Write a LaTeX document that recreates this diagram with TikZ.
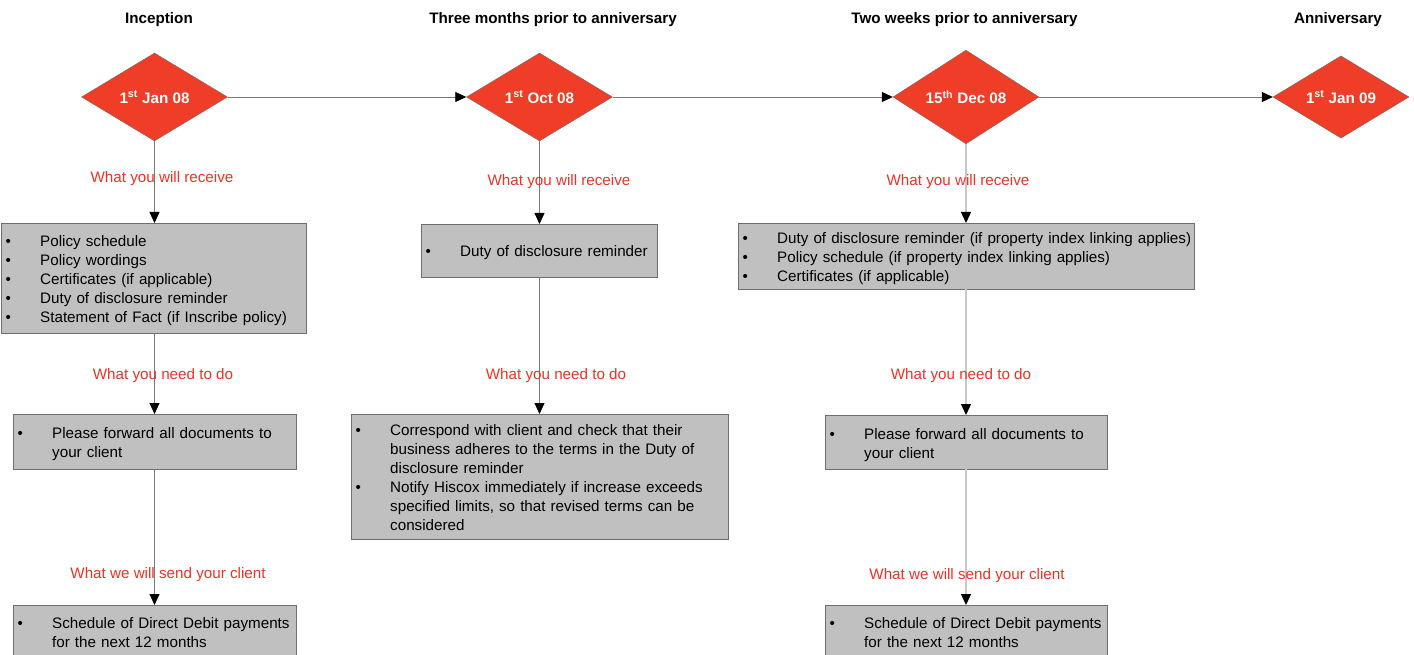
\documentclass[tikz,border=0pt]{standalone}
\usepackage{fontspec}
\setmainfont{Liberation Sans}
\usetikzlibrary{shapes.geometric,arrows.meta}
\definecolor{datered}{RGB}{239,61,39}
\definecolor{labelred}{RGB}{238,50,35}
\definecolor{boxgray}{RGB}{192,192,192}
\definecolor{boxedge}{RGB}{110,110,110}
\definecolor{linkgray}{RGB}{120,120,120}
\definecolor{lightlink}{RGB}{200,200,200}
\newcommand{\bl}{\textbullet &}
\newcommand{\topgap}{\rule{0pt}{18.3pt}}
\tikzset{
  every node/.style={font=\fontsize{15.2}{19}\selectfont},
  datebox/.style={diamond, draw=boxedge, fill=datered, text=white, inner sep=0pt,
    minimum width=146pt, minimum height=88pt, font=\fontsize{15.2}{19}\selectfont\bfseries},
  stage/.style={font=\fontsize{15.2}{19}\selectfont\bfseries},
  listbox/.style={draw=boxedge, fill=boxgray, anchor=north west, inner xsep=4.3pt,
    inner ysep=0pt, align=left},
  lbl/.style={text=labelred},
  link/.style={draw=linkgray, line width=0.8pt, -{Triangle[width=10pt,length=11pt,black]}},
  lightlink/.style={link, draw=lightlink, line width=1.4pt}
}
\begin{document}
\begin{tikzpicture}[x=1pt,y=-1pt]
			%%%%% FRAME %%%%%
			\useasboundingbox (0,0) rectangle (1414,655);
			\clip (0,0) rectangle (1414,655);
			
			%%%%% HEADINGS %%%%%
			\node[stage] (h1) at (159,20) {Inception};
			\node[stage] (h2) at (553,20) {Three months prior to anniversary};
			\node[stage] (h3) at (964.5,20) {Two weeks prior to anniversary};
			\node[stage] (h4) at (1338,20) {Anniversary};
			
			%%%%% DATES %%%%%
			\node[datebox] (d1) at (154.5,97) {1\textsuperscript{st} Jan 08};
			\node[datebox] (d2) at (539.5,97) {1\textsuperscript{st} Oct 08};
			\node[datebox] (d3) at (966,97) {15\textsuperscript{th} Dec 08};
			\node[datebox, minimum width=136pt, minimum height=82pt] (d4) at (1341,97) {1\textsuperscript{st} Jan 09};
			
			\draw[link] (d1) -- (d2);
			\draw[link] (d2) -- (d3);
			\draw[link] (d3) -- (d4);
			
			%%%%% INCEPTION %%%%%
			\node[listbox, text width=296.4pt, minimum height=110pt] (b1a) at (1,223) {%
				\begin{tabular}{@{}p{34.7pt}@{}l@{}}
				\topgap\bl Policy schedule\\
				\bl Policy wordings\\
				\bl Certificates (if applicable)\\
				\bl Duty of disclosure reminder\\
				\bl Statement of Fact (if Inscribe policy)
				\end{tabular}};
			\node[listbox, text width=274.4pt, minimum height=55pt] (b1b) at (13,414) {%
				\begin{tabular}{@{}p{34.7pt}@{}l@{}}
				\topgap\bl Please forward all documents to\\
				& your client
				\end{tabular}};
			\node[listbox, text width=274.4pt, minimum height=52pt] (b1c) at (13,605) {%
				\begin{tabular}{@{}p{34.7pt}@{}l@{}}
				\topgap\bl Schedule of Direct Debit payments\\
				& for the next 12 months
				\end{tabular}};
			
			\draw[link] (d1.south) -- (d1.south |- b1a.north);
			\draw[link] (d1.south |- b1a.south) -- (d1.south |- b1b.north);
			\draw[link] (d1.south |- b1b.south) -- (d1.south |- b1c.north);
			
			\node[lbl] (r1a) at (162,178.5) {What you will receive};
			\node[lbl] (r1b) at (163,375.5) {What you need to do};
			\node[lbl] (r1c) at (168,574.5) {What we will send your client};
			
			%%%%% THREE MONTHS %%%%%
			\node[listbox, text width=227.4pt, minimum height=53pt] (b2a) at (421,224) {%
				\begin{tabular}{@{}p{34.7pt}@{}l@{}}
				\topgap\bl Duty of disclosure reminder
				\end{tabular}};
			\node[listbox, text width=368.4pt, minimum height=125pt] (b2b) at (351,414) {%
				\begin{tabular}{@{}p{34.7pt}@{}l@{}}
				\topgap\bl Correspond with client and check that their\\
				& business adheres to the terms in the Duty of\\
				& disclosure reminder\\
				\bl Notify Hiscox immediately if increase exceeds\\
				& specified limits, so that revised terms can be\\
				& considered
				\end{tabular}};
			
			\draw[link] (d2.south) -- (d2.south |- b2a.north);
			\draw[link] (d2.south |- b2a.south) -- (d2.south |- b2b.north);
			
			\node[lbl] (r2a) at (559,181.5) {What you will receive};
			\node[lbl] (r2b) at (556,375.5) {What you need to do};
			
			%%%%% TWO WEEKS %%%%%
			\node[listbox, text width=447.4pt, minimum height=66pt] (b3a) at (738,223) {%
				\begin{tabular}{@{}p{34.7pt}@{}l@{}}
				\topgap\bl Duty of disclosure reminder (if property index linking applies)\\
				\bl Policy schedule (if property index linking applies)\\
				\bl Certificates (if applicable)
				\end{tabular}};
			\node[listbox, text width=273.4pt, minimum height=54pt] (b3b) at (825,415) {%
				\begin{tabular}{@{}p{34.7pt}@{}l@{}}
				\topgap\bl Please forward all documents to\\
				& your client
				\end{tabular}};
			\node[listbox, text width=273.4pt, minimum height=52pt] (b3c) at (825,605) {%
				\begin{tabular}{@{}p{34.7pt}@{}l@{}}
				\topgap\bl Schedule of Direct Debit payments\\
				& for the next 12 months
				\end{tabular}};
			
			\draw[lightlink] (d3.south) -- (d3.south |- b3a.north);
			\draw[lightlink] (d3.south |- b3a.south) -- (d3.south |- b3b.north);
			\draw[lightlink] (d3.south |- b3b.south) -- (d3.south |- b3c.north);
			
			\node[lbl] (r3a) at (958,181.5) {What you will receive};
			\node[lbl] (r3b) at (961,375.5) {What you need to do};
			\node[lbl] (r3c) at (967,575.5) {What we will send your client};
			
			%%%%% END %%%%%
\end{tikzpicture}
\end{document}
